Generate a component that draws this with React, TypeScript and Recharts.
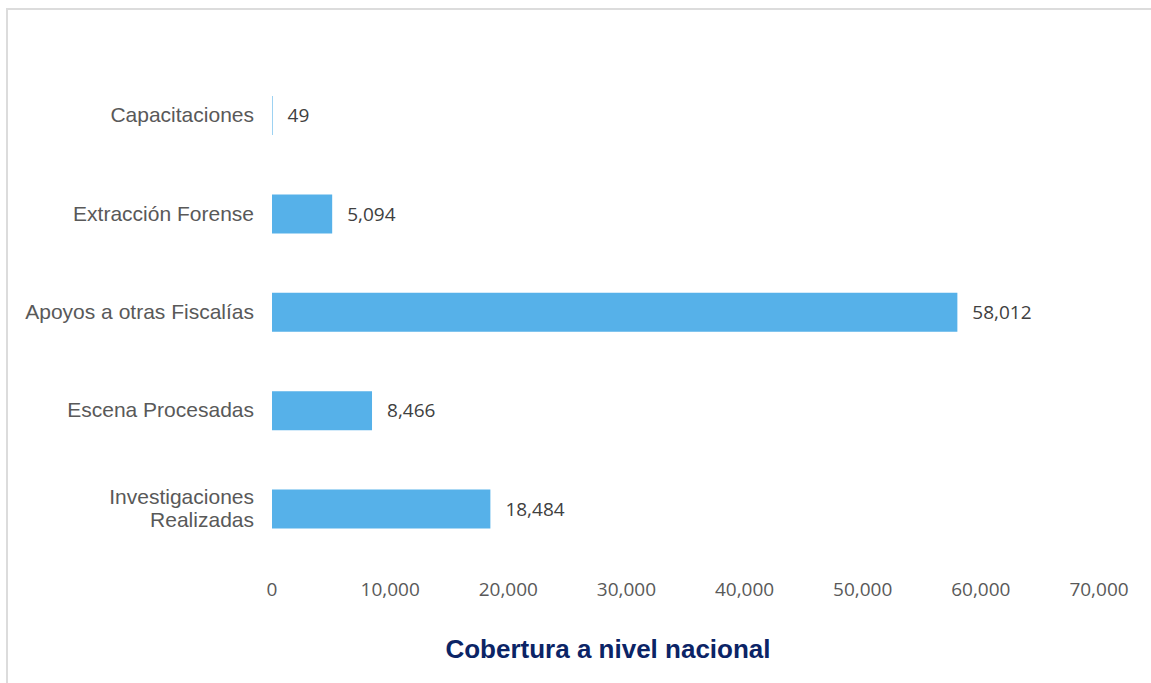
import { BarChart, Bar, XAxis, YAxis, LabelList } from 'recharts';

const CATEGORIES = [
  'Capacitaciones',
  'Extracción Forense',
  'Apoyos a otras Fiscalías',
  'Escena Procesadas',
  'Investigaciones Realizadas',
];
const VALUES = [49, 5094, 58012, 8466, 18484];
const X_TICKS = [0, 10000, 20000, 30000, 40000, 50000, 60000, 70000];
const TITLE = 'Cobertura a nivel nacional';

const data = CATEGORIES.map((name, i) => ({ name, value: VALUES[i] }));

const fmt = (v: number) => v.toLocaleString('en-US');

// wrap long category names onto two lines, like the original
function CategoryTick(props: any) {
  const { x, y, payload } = props;
  const text: string = payload.value;
  let lines = [text];
  if (text.length > 25) {
    const cut = text.lastIndexOf(' ');
    lines = [text.slice(0, cut), text.slice(cut + 1)];
  }
  const lh = 23;
  return (
    <text
      x={x}
      y={y}
      textAnchor="end"
      fill="#595959"
      fontSize={21}
      fontFamily="'Liberation Sans', Arial, sans-serif"
    >
      {lines.map((l, i) => (
        <tspan
          key={i}
          x={x}
          dy={i === 0 ? -((lines.length - 1) / 2) * lh + 7 : lh}
        >
          {l}
        </tspan>
      ))}
    </text>
  );
}

export default function App() {
  return (
    <div style={{ position: 'fixed', left: 0, top: 0, width: 1151, height: 683, background: '#fff' }}>
      <div
        style={{
          position: 'absolute',
          left: 6,
          top: 8,
          width: 1145,
          height: 675,
          boxSizing: 'border-box',
          borderTop: '2px solid #dcdcdc',
          borderLeft: '2px solid #dcdcdc',
        }}
      />
      <div style={{ position: 'absolute', left: 0, top: 0 }}>
        <BarChart
          width={1151}
          height={683}
          data={data}
          layout="vertical"
          margin={{ top: 66, right: 52, bottom: 0, left: 0 }}
        >
          <XAxis
            type="number"
            domain={[0, 70000]}
            ticks={X_TICKS}
            tickFormatter={fmt}
            axisLine={false}
            tickLine={false}
            tickMargin={19}
            height={125}
            tick={{ fill: '#595959', fontSize: 19, fontFamily: "'Open Sans', sans-serif" }}
          />
          <YAxis
            type="category"
            dataKey="name"
            width={272}
            axisLine={false}
            tickLine={false}
            tickMargin={12}
            tick={<CategoryTick />}
            interval={0}
          />
          <Bar dataKey="value" fill="#56b1e9" barSize={39} isAnimationActive={false}>
            <LabelList
              dataKey="value"
              position="right"
              offset={15}
              formatter={(v: any) => fmt(Number(v))}
              style={{ fill: '#404040', fontSize: 19, fontFamily: "'Open Sans', sans-serif" }}
            />
          </Bar>
        </BarChart>
      </div>
      <div
        style={{
          position: 'absolute',
          left: 358,
          top: 634,
          width: 500,
          textAlign: 'center',
          fontFamily: "'Liberation Sans', Arial, sans-serif",
          fontWeight: 'bold',
          fontSize: 26,
          lineHeight: '30px',
          color: '#0b2466',
        }}
      >
        {TITLE}
      </div>
    </div>
  );
}
